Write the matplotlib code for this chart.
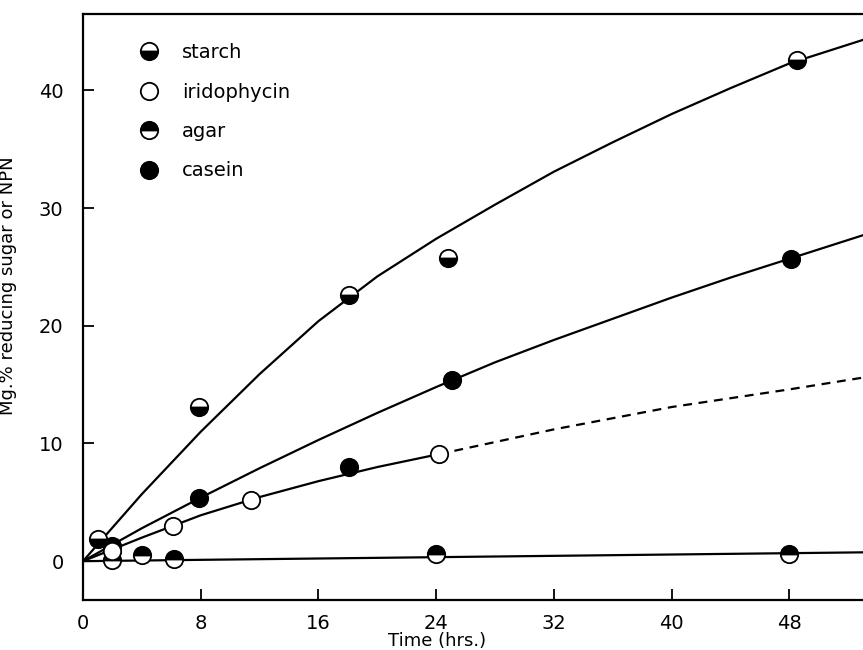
import matplotlib
matplotlib.use("Agg")
import matplotlib.pyplot as plt
from matplotlib.lines import Line2D

# ---- measured points
starch_t = [1.0, 7.9, 18.1, 24.8, 48.5]
starch_y = [1.9, 13.1, 22.6, 25.8, 42.6]
irido_t = [2.0, 6.1, 11.4, 24.2]
irido_y = [0.9, 3.0, 5.2, 9.1]
agar_t = [2.0, 4.0, 6.2, 24.0, 48.0]
agar_y = [0.1, 0.5, 0.2, 0.6, 0.6]
casein_t = [2.0, 7.9, 18.1, 25.1, 48.1]
casein_y = [1.3, 5.4, 8.0, 15.4, 25.7]

# ---- hand-drawn curves
curve_t = [0, 4, 8, 12, 16, 20, 24, 28, 32, 36, 40, 44, 48, 53]
starch_cy = [0, 5.7, 11.0, 15.9, 20.4, 24.2, 27.4, 30.3, 33.1, 35.6, 38.0, 40.2, 42.3, 44.3]
casein_cy = [0, 2.8, 5.4, 7.9, 10.3, 12.6, 14.8, 16.9, 18.8, 20.6, 22.4, 24.1, 25.7, 27.7]
irido_ct = [0, 4, 8, 12, 16, 20, 24.2]
irido_cy = [0, 2.0, 3.9, 5.45, 6.8, 8.0, 9.1]
irido_dt = [24.2, 32, 40, 48, 53]
irido_dy = [9.1, 11.2, 13.1, 14.6, 15.6]
agar_ct = [0, 53]
agar_cy = [0, 0.75]

xticks = [0, 8, 16, 24, 32, 40, 48]
yticks = [0, 10, 20, 30, 40]

plt.rcParams["font.family"] = ["DejaVu Sans"]

fig = plt.figure(figsize=(8.63, 6.5), dpi=100)
ax = fig.add_axes([83 / 863, 50 / 650, 780 / 863, 586 / 650])

lw = 1.6
ax.plot(curve_t, starch_cy, color="black", lw=lw, zorder=2)
ax.plot(curve_t, casein_cy, color="black", lw=lw, zorder=2)
ax.plot(irido_ct, irido_cy, color="black", lw=lw, zorder=2)
ax.plot(irido_dt, irido_dy, color="black", lw=lw, ls=(0, (4, 3)), zorder=2)
ax.plot(agar_ct, agar_cy, color="black", lw=lw, zorder=2)

ms = 12.5
mk = dict(marker="o", ms=ms, ls="none", mec="black", mew=1.3, zorder=3)
ax.plot(agar_t, agar_y, fillstyle="top", mfc="black", mfcalt="white", **mk)
ax.plot(casein_t, casein_y, mfc="black", **mk)
ax.plot(irido_t, irido_y, mfc="white", **mk)
ax.plot(starch_t, starch_y, fillstyle="bottom", mfc="black", mfcalt="white", **mk)

handles = [
    Line2D([], [], fillstyle="bottom", mfc="black", mfcalt="white", **mk),
    Line2D([], [], mfc="white", **mk),
    Line2D([], [], fillstyle="top", mfc="black", mfcalt="white", **mk),
    Line2D([], [], mfc="black", **mk),
]
ax.legend(handles, ["starch", "iridophycin", "agar", "casein"],
          loc="upper left", bbox_to_anchor=(0.05, 0.98), frameon=False,
          fontsize=14, labelspacing=1.05, handlelength=1.0, handletextpad=1.2)

ax.set_xlim(0, 53)
ax.set_ylim(-3.3, 46.5)
ax.set_xticks(xticks)
ax.set_yticks(yticks)
ax.tick_params(direction="in", length=8, width=1.3, labelsize=14, pad=10)
ax.tick_params(axis="y", pad=14)
for s in ["left", "bottom", "top"]:
    ax.spines[s].set_linewidth(1.6)
ax.spines["right"].set_visible(False)

ax.set_xlabel("Time (hrs.)", fontsize=13, labelpad=2)
ax.xaxis.set_label_coords(0.454, -0.055)
ax.set_ylabel("Mg.% reducing sugar or NPN", fontsize=13)
ax.yaxis.set_label_coords(-0.085, 0.537)

fig.savefig("out.png", dpi=100)
